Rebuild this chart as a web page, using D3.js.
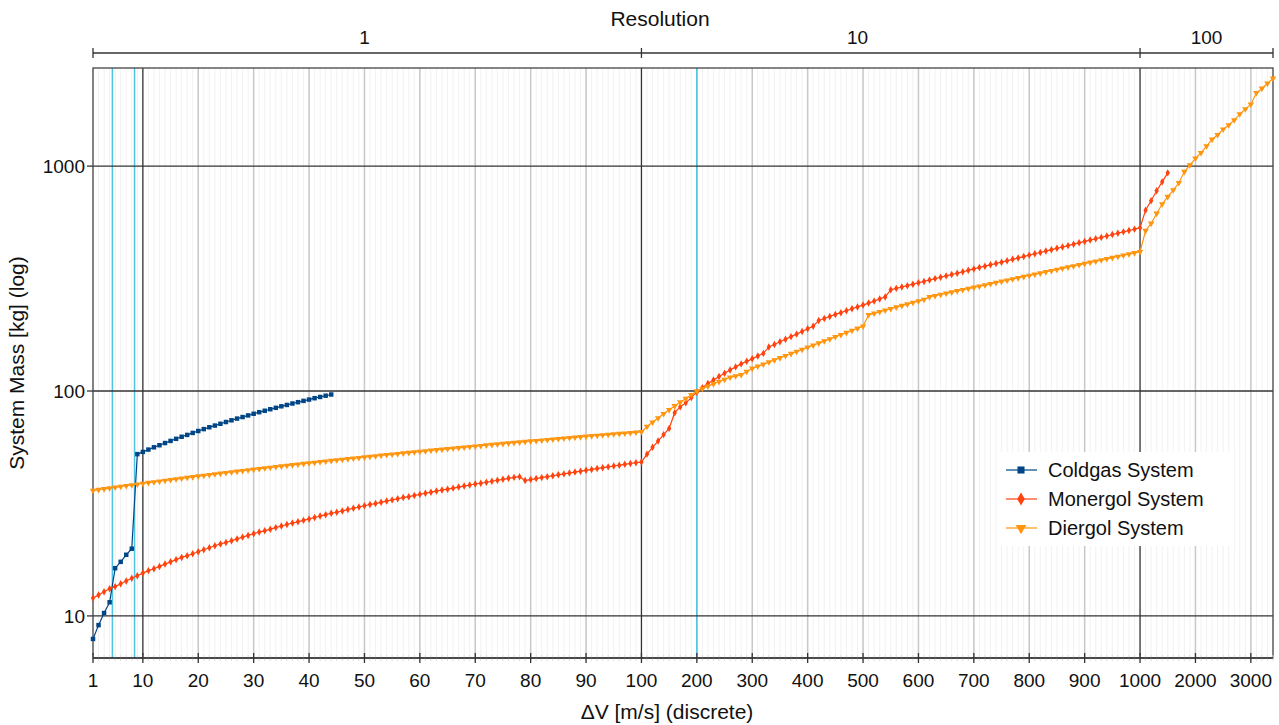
<!DOCTYPE html>
<html lang="en">
<head>
<meta charset="UTF-8" />
<title>System Mass vs Delta V</title>
<script src="https://d3js.org/d3.v7.min.js"></script>
<style>
  body { margin: 0; background: #fff; }
  svg { font-family: "Liberation Sans", Arial, sans-serif; }
</style>
</head>
<body>
<svg id="chart" width="1279" height="725"></svg>
<script>
// x axis is discrete: resolution 1 up to 100, 10 up to 1000, 100 above
const bandStart = [1, 110, 1100];
const bandEnd = [100, 1000, 3400];
const bandStep = [1, 10, 100];
const bandEdges = [1, 100, 1000, 3400];
const bandLabels = ["1", "10", "100"];
const bandLabelAt = [50, 490, 2200];

const xTicks = [1, 10, 20, 30, 40, 50, 60, 70, 80, 90, 100, 200, 300, 400, 500, 600, 700, 800, 900, 1000, 2000, 3000];
const xMajor = [10, 100, 1000];
const yTicks = [10, 100, 1000];
const cyanLines = [4.5, 8.5, 200];

// Coldgas: dV = 1 .. 44
const coldgas = [
  7.9, 9.1, 10.3, 11.5, 16.3, 17.4, 18.7, 19.9, 52.4, 53.6,
  54.9, 56.2, 57.4, 58.7, 60.0, 61.3, 62.6, 63.8, 65.1, 66.4,
  67.7, 69.0, 70.2, 71.5, 72.8, 74.1, 75.4, 76.6, 77.9, 79.2,
  80.5, 81.7, 83.0, 84.2, 85.5, 86.7, 88.0, 89.2, 90.4, 91.6,
  92.9, 94.1, 95.3, 96.5
];

// Monergol: dV = 1 .. 100, 110 .. 1000, 1100 .. 1500
const monergol = [
  12.0, 12.4, 12.8, 13.2, 13.5, 13.9, 14.3, 14.7, 15.1, 15.5,
  15.9, 16.2, 16.6, 17.0, 17.4, 17.8, 18.2, 18.5, 18.9, 19.3,
  19.7, 20.1, 20.5, 20.9, 21.2, 21.6, 22.0, 22.4, 22.8, 23.2,
  23.6, 23.9, 24.3, 24.7, 25.1, 25.5, 25.9, 26.2, 26.6, 27.0,
  27.4, 27.8, 28.2, 28.6, 28.9, 29.3, 29.7, 30.1, 30.5, 30.9,
  31.3, 31.6, 32.0, 32.4, 32.8, 33.2, 33.6, 33.9, 34.3, 34.7,
  35.1, 35.5, 35.9, 36.3, 36.6, 37.0, 37.4, 37.8, 38.2, 38.6,
  38.9, 39.3, 39.7, 40.1, 40.5, 40.9, 41.3, 41.6, 40.0, 40.4,
  40.8, 41.2, 41.6, 42.0, 42.4, 42.8, 43.2, 43.6, 44.0, 44.4,
  44.8, 45.2, 45.6, 46.0, 46.4, 46.8, 47.2, 47.6, 48.0, 48.3,
  52.4, 56.2, 59.9, 64.0, 68.2, 80.1, 85.0, 88.6, 93.5, 98.8,
  103.5, 108, 112, 116, 120, 124, 128, 132, 135.5, 139,
  143, 147, 157, 161, 165.5, 170, 174.5, 179, 184, 189,
  194, 206, 210, 214.5, 219, 223, 227.5, 232, 236.5, 241,
  246, 251, 256.5, 262, 282, 286, 290, 294, 298.5, 303,
  307, 311.5, 316, 320.5, 325, 329.5, 334, 339, 344, 349,
  354, 359, 364, 369, 374, 379.5, 385, 390.5, 396, 402,
  407.5, 413, 419, 425, 431, 437, 443, 449.5, 456, 462.5,
  469, 475.5, 482, 489, 496, 503, 510, 517, 524.5, 532,
  637, 701, 777, 851, 933
];

// Diergol: dV = 1 .. 100, 110 .. 1000, 1100 .. 3400
const diergol = [
  36.1, 36.4, 36.7, 37.0, 37.3, 37.6, 37.9, 38.2, 38.5, 38.8,
  39.1, 39.4, 39.7, 40.0, 40.3, 40.6, 40.9, 41.2, 41.5, 41.8,
  42.1, 42.4, 42.7, 43.0, 43.3, 43.6, 43.9, 44.2, 44.5, 44.8,
  45.1, 45.4, 45.7, 46.0, 46.3, 46.6, 46.9, 47.2, 47.5, 47.8,
  48.1, 48.4, 48.7, 49.0, 49.3, 49.6, 49.9, 50.2, 50.5, 50.8,
  51.1, 51.4, 51.7, 52.0, 52.3, 52.6, 52.9, 53.2, 53.5, 53.8,
  54.1, 54.4, 54.7, 55.0, 55.3, 55.6, 55.9, 56.2, 56.5, 56.8,
  57.1, 57.4, 57.7, 58.0, 58.3, 58.6, 58.9, 59.2, 59.5, 59.8,
  60.1, 60.4, 60.7, 61.0, 61.3, 61.6, 61.9, 62.2, 62.5, 62.8,
  63.1, 63.4, 63.7, 64.0, 64.3, 64.6, 64.9, 65.2, 65.5, 65.8,
  69.5, 72.6, 75.8, 79.2, 82.5, 85.8, 89.2, 92.6, 96.2, 100,
  102.5, 105, 107.5, 110, 112.5, 115, 116.5, 118, 122, 126,
  128.7, 131.5, 134.4, 137.3, 140.3, 143.4, 146.5, 149.7, 152.9, 156.3,
  159.7, 163.2, 166.7, 170.3, 174.1, 177.9, 181.7, 185.7, 189.8, 193.9,
  218, 221.4, 225, 228.5, 232.1, 235.8, 239.5, 243.3, 247.1, 251,
  255, 262, 265.2, 268.5, 271.8, 275.1, 278.5, 281.9, 285.3, 288.8,
  292.3, 295.9, 299.5, 303.2, 306.9, 310.7, 314.5, 318.3, 322.2, 326.2,
  330.2, 334.2, 338.3, 342.4, 346.6, 350.9, 355.2, 359.5, 363.9, 368.4,
  372.9, 377.5, 382.1, 386.8, 391.5, 396.3, 401.2, 406.1, 411.0, 416,
  516, 556, 616, 678, 731, 782, 843, 944, 1010, 1082,
  1146, 1227, 1314, 1378, 1457, 1522, 1601, 1702, 1792, 1881,
  2118, 2215, 2330, 2455
];

const seriesNames = ["Coldgas System", "Monergol System", "Diergol System"];
const seriesValues = [coldgas, monergol, diergol];
const seriesColors = ["#004586", "#ff420e", "#ff950e"];

const margin = { top: 68, right: 6, bottom: 67, left: 93 };
const width = 1279, height = 725;

const svg = d3.select("#chart");

const categories = bandStart.flatMap((s, i) => d3.range(s, bandEnd[i] + 1, bandStep[i]));

const x = d3.scalePoint()
  .domain(categories)
  .range([margin.left, width - margin.right]);

// position for values that fall between two categories
function xPos(v) {
  const i = d3.bisectLeft(categories, v);
  if (categories[i] === v) return x(v);
  const a = categories[i - 1], b = categories[i];
  return x(a) + (x(b) - x(a)) * (v - a) / (b - a);
}

const y = d3.scaleLog()
  .domain([6.5, 2730])
  .range([height - margin.bottom, margin.top]);

const plotTop = margin.top, plotBottom = height - margin.bottom;
const plotLeft = margin.left, plotRight = width - margin.right;

const grid = svg.append("g");

// faint line at every category
grid.selectAll(".minor")
  .data(categories)
  .join("line")
  .attr("x1", d => x(d)).attr("x2", d => x(d))
  .attr("y1", plotTop).attr("y2", plotBottom)
  .attr("stroke", "#f2f2f2")
  .attr("stroke-width", 1);

grid.selectAll(".tickline")
  .data(xTicks.filter(d => d !== 1 && !xMajor.includes(d)))
  .join("line")
  .attr("x1", d => x(d)).attr("x2", d => x(d))
  .attr("y1", plotTop).attr("y2", plotBottom)
  .attr("stroke", "#c8c8c8")
  .attr("stroke-width", 1.5);

grid.selectAll(".cyan")
  .data(cyanLines)
  .join("line")
  .attr("x1", d => xPos(d)).attr("x2", d => xPos(d))
  .attr("y1", plotTop).attr("y2", plotBottom)
  .attr("stroke", "#4cc4e6")
  .attr("stroke-width", 1.5);

grid.selectAll(".xmajor")
  .data(xMajor)
  .join("line")
  .attr("x1", d => x(d)).attr("x2", d => x(d))
  .attr("y1", plotTop).attr("y2", plotBottom)
  .attr("stroke", "#333")
  .attr("stroke-width", 1.3);

grid.selectAll(".ymajor")
  .data(yTicks)
  .join("line")
  .attr("x1", plotLeft).attr("x2", plotRight)
  .attr("y1", d => y(d)).attr("y2", d => y(d))
  .attr("stroke", "#333")
  .attr("stroke-width", 1.3);

// plot frame
svg.append("rect")
  .attr("x", plotLeft).attr("y", plotTop)
  .attr("width", plotRight - plotLeft).attr("height", plotBottom - plotTop)
  .attr("fill", "none")
  .attr("stroke", "#444")
  .attr("stroke-width", 1.3);

// bottom axis
const xAxis = svg.append("g").attr("transform", `translate(0,${plotBottom})`);
xAxis.selectAll(".mt")
  .data(categories)
  .join("line")
  .attr("x1", d => x(d)).attr("x2", d => x(d))
  .attr("y1", -3).attr("y2", 3)
  .attr("stroke", "#ddd");
xAxis.append("line")
  .attr("x1", plotLeft).attr("x2", plotRight)
  .attr("stroke", "#333").attr("stroke-width", 1.3);
xAxis.selectAll(".t")
  .data(xTicks)
  .join("line")
  .attr("x1", d => x(d)).attr("x2", d => x(d))
  .attr("y1", -5).attr("y2", 5)
  .attr("stroke", "#333").attr("stroke-width", 1.3);
xAxis.selectAll("text")
  .data(xTicks)
  .join("text")
  .attr("x", d => x(d))
  .attr("y", 29)
  .attr("text-anchor", "middle")
  .attr("font-size", 19)
  .attr("fill", "#111")
  .text(d => d);

svg.append("text")
  .attr("x", 667).attr("y", 719)
  .attr("text-anchor", "middle")
  .attr("font-size", 21)
  .attr("fill", "#111")
  .text("ΔV [m/s] (discrete)");

// left axis
const yAxis = svg.append("g");
yAxis.selectAll("line")
  .data(yTicks)
  .join("line")
  .attr("x1", plotLeft - 6).attr("x2", plotLeft)
  .attr("y1", d => y(d)).attr("y2", d => y(d))
  .attr("stroke", "#333").attr("stroke-width", 1.3);
yAxis.selectAll("text")
  .data(yTicks)
  .join("text")
  .attr("x", plotLeft - 8)
  .attr("y", d => y(d))
  .attr("dy", "0.35em")
  .attr("text-anchor", "end")
  .attr("font-size", 19)
  .attr("fill", "#111")
  .text(d => d);

svg.append("text")
  .attr("transform", `translate(24,${(plotTop + plotBottom) / 2}) rotate(-90)`)
  .attr("text-anchor", "middle")
  .attr("font-size", 21)
  .attr("fill", "#111")
  .text("System Mass [kg] (log)");

// top "Resolution" axis
const ty = 53;
const topAxis = svg.append("g");
topAxis.append("line")
  .attr("x1", plotLeft).attr("x2", plotRight)
  .attr("y1", ty).attr("y2", ty)
  .attr("stroke", "#333").attr("stroke-width", 1.3);
topAxis.selectAll(".edge")
  .data(bandEdges)
  .join("line")
  .attr("x1", d => x(d)).attr("x2", d => x(d))
  .attr("y1", ty - 5).attr("y2", ty + 5)
  .attr("stroke", "#333").attr("stroke-width", 1.3);
topAxis.selectAll("text")
  .data(bandLabels)
  .join("text")
  .attr("x", (d, i) => x(bandLabelAt[i]))
  .attr("y", 44)
  .attr("text-anchor", "middle")
  .attr("font-size", 19)
  .attr("fill", "#111")
  .text(d => d);
svg.append("text")
  .attr("x", 660).attr("y", 26)
  .attr("text-anchor", "middle")
  .attr("font-size", 21)
  .attr("fill", "#111")
  .text("Resolution");

// series
const line = d3.line()
  .x(d => x(d[0]))
  .y(d => y(d[1]));

const symbols = [
  d3.symbol().type(d3.symbolSquare).size(20),
  d3.symbol().type(d3.symbolDiamond).size(16),
  d3.symbol().type(d3.symbolTriangle).size(18)
];
const rotations = [0, 0, 180];

const plot = svg.append("g");
seriesValues.forEach((vals, s) => {
  const pts = vals.map((v, i) => [categories[i], v]);
  const g = plot.append("g");
  g.append("path")
    .datum(pts)
    .attr("fill", "none")
    .attr("stroke", seriesColors[s])
    .attr("stroke-width", 1.2)
    .attr("d", line);
  g.selectAll("path.m")
    .data(pts)
    .join("path")
    .attr("class", "m")
    .attr("d", symbols[s])
    .attr("transform", d => `translate(${x(d[0])},${y(d[1])}) rotate(${rotations[s]})`)
    .attr("fill", seriesColors[s]);
});

// legend
const legend = svg.append("g").attr("transform", "translate(998,452)");
legend.append("rect")
  .attr("width", 236).attr("height", 94)
  .attr("fill", "#fff");
seriesNames.forEach((name, i) => {
  const row = legend.append("g").attr("transform", `translate(0,${18 + i * 29})`);
  row.append("line")
    .attr("x1", 8).attr("x2", 39)
    .attr("stroke", seriesColors[i]).attr("stroke-width", 1.2);
  row.append("path")
    .attr("d", d3.symbol().type([d3.symbolSquare, d3.symbolDiamond, d3.symbolTriangle][i]).size(50))
    .attr("transform", `translate(23,0) rotate(${rotations[i]})`)
    .attr("fill", seriesColors[i]);
  row.append("text")
    .attr("x", 50).attr("dy", "0.35em")
    .attr("font-size", 20)
    .attr("fill", "#111")
    .text(name);
});
</script>
</body>
</html>
